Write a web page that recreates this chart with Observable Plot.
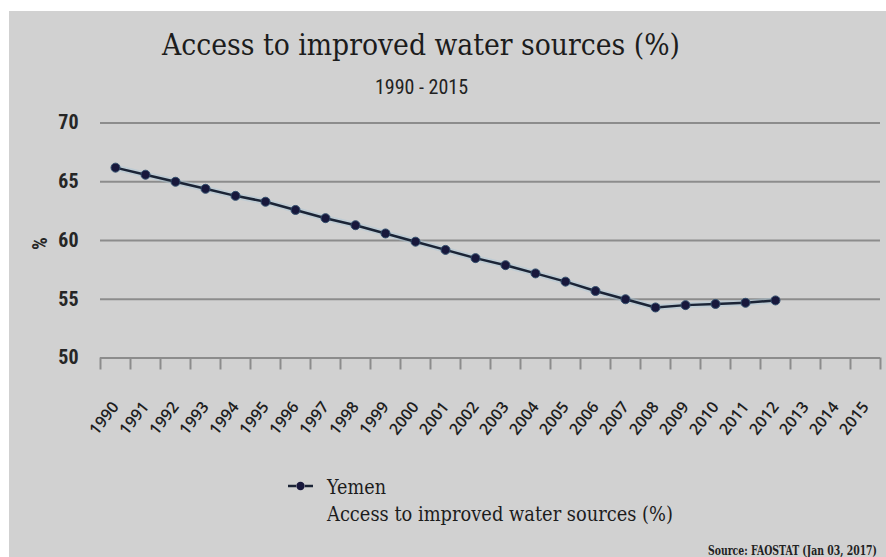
<!DOCTYPE html>
<html>
<head>
<meta charset="utf-8">
<script src="https://cdn.jsdelivr.net/npm/d3@7"></script>
<script src="https://cdn.jsdelivr.net/npm/@observablehq/plot@0.6"></script>
<style>
  html, body { margin: 0; padding: 0; background: #ffffff; }
  #page { position: relative; width: 886px; height: 557px; overflow: hidden; background: #ffffff; }
  #panel { position: absolute; left: 9px; top: 11px; right: 0; bottom: 0; background: #d1d1d1; }
  #plot { position: absolute; left: 0; top: 0; }
  .txt { position: absolute; white-space: nowrap; line-height: 1; transform-origin: 0 0; color: #1c1c1c; }
  .serif { font-family: "DejaVu Serif", "Liberation Serif", serif; }
  .narrow { font-family: "Liberation Sans Narrow", "Arial Narrow", "Roboto Condensed", Roboto, sans-serif; }
  #title { font-size: 30px; left: 162px; top: 29.5px; }
  #subtitle { font-size: 20px; left: 375px; top: 77px; color: #222; }
  #ylabel { font-size: 20px; font-weight: bold; left: 30px; top: 250px; transform: rotate(-90deg); color: #262626; }
  #legend-key { position: absolute; left: 286px; top: 478px; }
  #legend-name { font-size: 20px; left: 327px; top: 477px; }
  #legend-desc { font-size: 20px; left: 327px; top: 504px; }
  #source { font-size: 13px; font-weight: bold; left: 708px; top: 544px; color: #222; }
</style>
</head>
<body>
<div id="page">
  <div id="panel"></div>
  <div id="plot"></div>
  <div id="title" class="txt serif">Access to improved water sources (%)</div>
  <div id="subtitle" class="txt narrow">1990 - 2015</div>
  <div id="ylabel" class="txt narrow">%</div>
  <svg id="legend-key" width="30" height="16"></svg>
  <div id="legend-name" class="txt serif">Yemen</div>
  <div id="legend-desc" class="txt serif">Access to improved water sources (%)</div>
  <div id="source" class="txt serif">Source: FAOSTAT (Jan 03, 2017)</div>
</div>
<script>
// Category axis: one band per year
const years = [1990, 1991, 1992, 1993, 1994, 1995, 1996, 1997, 1998, 1999, 2000, 2001, 2002,
               2003, 2004, 2005, 2006, 2007, 2008, 2009, 2010, 2011, 2012, 2013, 2014, 2015];

// Yemen, share of population with access to improved water sources (%), 1990–2012
const yemenYears = [1990, 1991, 1992, 1993, 1994, 1995, 1996, 1997, 1998, 1999, 2000, 2001,
                    2002, 2003, 2004, 2005, 2006, 2007, 2008, 2009, 2010, 2011, 2012];
const yemenValues = [66.2, 65.6, 65.0, 64.4, 63.8, 63.3, 62.6, 61.9, 61.3, 60.6, 59.9, 59.2,
                     58.5, 57.9, 57.2, 56.5, 55.7, 55.0, 54.3, 54.5, 54.6, 54.7, 54.9];

// Value axis ticks
const yTicks = [50, 55, 60, 65, 70];

const rows = yemenYears.map((year, i) => ({year, value: yemenValues[i]}));
// Tick marks sit on the boundaries between year bands
const bandEdges = years.map(y => y - 0.5).concat([years[years.length - 1] + 0.5]);

const lineColor = "#1b2436";
const dotColor = "#18183c";
const gridColor = "#8c8c8c";

const chart = Plot.plot({
  width: 886,
  height: 557,
  marginTop: 122.5,
  marginBottom: 199.5,
  marginLeft: 100,
  marginRight: 6,
  style: {background: "transparent", overflow: "visible"},
  x: {type: "linear", domain: [bandEdges[0], bandEdges[bandEdges.length - 1]], label: null},
  y: {domain: [yTicks[0], yTicks[yTicks.length - 1]], label: null},
  marks: [
    Plot.ruleY(yTicks, {stroke: gridColor, strokeWidth: 2}),
    Plot.axisY(yTicks, {
      tickSize: 0, tickPadding: 22, fontSize: 20, fontWeight: "bold",
      fontFamily: '"Liberation Sans Narrow", "Arial Narrow", "Roboto Condensed", Roboto, sans-serif',
      fill: "#262626", label: null
    }),
    Plot.axisX(bandEdges, {tickSize: 12, tickFormat: () => "", stroke: gridColor, strokeWidth: 2, strokeOpacity: 1, label: null}),
    Plot.axisX(years, {
      tickSize: 0, tickPadding: 46, tickRotate: -52, tickFormat: d => String(d),
      fontSize: 16, fontWeight: 600, fontFamily: '"Open Sans", sans-serif', fill: "#1e1e1e", label: null
    }),
    Plot.line(rows, {x: "year", y: "value", stroke: "#a9c6d8", strokeWidth: 6, strokeOpacity: 0.45}),
    Plot.line(rows, {x: "year", y: "value", stroke: lineColor, strokeWidth: 2.5}),
    Plot.dot(rows, {x: "year", y: "value", r: 4.5, fill: dotColor, stroke: "#34506e", strokeWidth: 1})
  ]
});
document.getElementById("plot").append(chart);

// Legend swatch: dash – dot – dash in the series colours
const key = d3.select("#legend-key");
key.append("line").attr("x1", 2).attr("x2", 10).attr("y1", 8).attr("y2", 8).attr("stroke", lineColor).attr("stroke-width", 2.5);
key.append("line").attr("x1", 19).attr("x2", 27).attr("y1", 8).attr("y2", 8).attr("stroke", lineColor).attr("stroke-width", 2.5);
key.append("circle").attr("cx", 14.5).attr("cy", 8).attr("r", 4.2).attr("fill", dotColor);

// Condense the header, legend and source lines to their set widths
function fitWidth(id, width) {
  const el = document.getElementById(id);
  const w = el.getBoundingClientRect().width;
  el.style.transform = `scaleX(${width / w})`;
}
fitWidth("title", 518);
fitWidth("subtitle", 93);
fitWidth("legend-desc", 346);
fitWidth("legend-name", 59);
fitWidth("source", 169);
</script>
</body>
</html>
